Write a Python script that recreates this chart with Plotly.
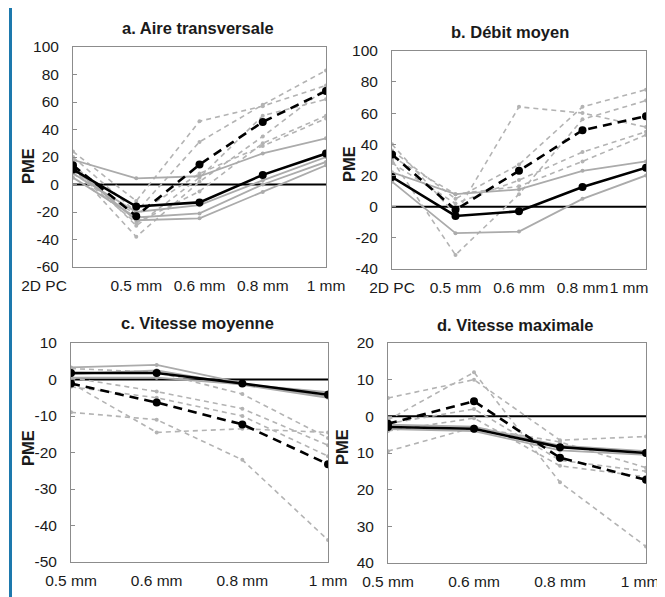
import plotly.graph_objects as go

# the page body adds an 8px offset; the figure fills the rest of the 665x597 window
OFF = 8
W, H = 665 - OFF, 597 - OFF

# ---------------- data ----------------
cats_ab = ["2D PC", "0.5 mm", "0.6 mm", "0.8 mm", "1 mm"]
cats_cd = ["0.5 mm", "0.6 mm", "0.8 mm", "1 mm"]

titles = ["a. Aire transversale", "b. Débit moyen", "c. Vitesse moyenne", "d. Vitesse maximale"]

# panel a
a_black_solid = [11, -16, -13, 7, 22.5]
a_black_dashed = [14, -23, 14.5, 45.5, 68]
a_grey_solid = [
    [18, 4.5, 6, 22.6, 33.6],
    [12, -26, -24.6, -5.5, 14],
    [5, -24, -21, 0, 16.4],
    [8, -20, -15, 3, 20],
]
a_grey_dashed = [
    [24, -12, 46, 57, 72],
    [20, -20, 31, 58, 83],
    [15, -30, 5, 50, 62],
    [12, -38, 2, 35, 70],
    [10, -28, -5, 30, 50],
    [8, -22, 8, 28, 48],
]

# panel b
b_black_solid = [19, -6, -3, 12.6, 25]
b_black_dashed = [33.5, -2, 23, 49, 58]
b_grey_solid = [
    [22, 8, 11, 23, 29],
    [16, -17, -16, 5, 20],
]
b_grey_dashed = [
    [40, -5, 64, 60, 51],
    [36, 5, 27, 64, 75],
    [30, -31, 8, 56, 68],
    [28, 2, 17, 35, 48],
    [32, 8, 13, 29, 46],
]

# panel c
c_black_solid = [1.8, 1.8, -1.1, -4.2]
c_black_dashed = [-1.1, -6.3, -12.3, -23.2]
c_grey_solid = [
    [3.3, 4, -1, -4.8],
    [1.5, 2.5, -1.5, -5],
    [0.5, 0.5, -1.3, -3.5],
]
c_grey_dashed = [
    [3, 2, -4, -16],
    [0.5, -3.3, -8, -18],
    [-1, -14.5, -13.5, -14.5],
    [-9, -11, -22, -44],
    [-2, -5, -10, -21],
]

# panel d
d_black_solid = [-2.9, -3.4, -8.4, -10]
d_black_dashed = [-2, 4.1, -11.3, -17.3]
d_grey_solid = [
    [-2.3, -2.8, -8, -9.5],
    [-3.5, -4, -9.3, -10.5],
]
d_grey_dashed = [
    [5, 10, -6.5, -5.5],
    [-1, 12, -18, -35.5],
    [-2, 2, -12, -15],
    [-4, -0.5, -13.5, -16.5],
    [-9.5, -3, -7, -14],
]

y_a_ticks = [100, 80, 60, 40, 20, 0, -20, -40, -60]
y_b_ticks = [100, 80, 60, 40, 20, 0, -20, -40]
y_c_ticks = [10, 0, -10, -20, -30, -40, -50]
y_d_ticks = [20, 10, 0, -10, -20, -30, -40]
y_d_ticktext = ["20", "10", "0", "10", "20", "30", "40"]

# ---------------- styling ----------------
FONT = "Liberation Sans, Arial, sans-serif"
GREY = "#ababab"
GREY_D = "#b3b3b3"
AXC = "#8c8c8c"
BLUE = "#1d79ad"
TXT = "#1a1a1a"
TICKFONT = dict(size=15.5, color=TXT, family=FONT)


def fx(px):
    return (px - OFF) / W


def fy(py):
    return 1 - (py - OFF) / H


# panel boxes in screen pixels (left, right, top, bottom)
boxes = [
    (73, 326, 47, 267),
    (392, 646, 50.7, 269),
    (71, 328, 343, 562),
    (388, 646, 343, 563),
]
title_pos = [(198, 28), (510, 32), (197, 323), (515, 325)]
pme_pos = [(28, 166), (349, 164), (28, 448), (342, 447)]

panels = [
    (cats_ab, a_black_solid, a_black_dashed, a_grey_solid, a_grey_dashed, [-60, 100], y_a_ticks, None),
    (cats_ab, b_black_solid, b_black_dashed, b_grey_solid, b_grey_dashed, [-40, 100], y_b_ticks, None),
    (cats_cd, c_black_solid, c_black_dashed, c_grey_solid, c_grey_dashed, [-50, 10], y_c_ticks, None),
    (cats_cd, d_black_solid, d_black_dashed, d_grey_solid, d_grey_dashed, [-40, 20], y_d_ticks, y_d_ticktext),
]

# edge category labels that the original draws shifted sideways: (panel, category index) -> px shift
label_shift = {(0, 0): -29, (1, 4): -17, (3, 3): -6}

fig = go.Figure()
layout = {}
shapes = []
annotations = []
extra_axis = 5

for i, (cats, bs, bd, gs, gd, yr, yt, ytt) in enumerate(panels):
    n = i + 1
    xa = "x" if n == 1 else f"x{n}"
    ya = "y" if n == 1 else f"y{n}"
    for s in gd:
        fig.add_trace(go.Scatter(x=cats, y=s, xaxis=xa, yaxis=ya, mode="lines+markers",
                                 line=dict(color=GREY_D, width=1.6, dash="5px,4px"),
                                 marker=dict(size=4, color=GREY_D), showlegend=False))
    for s in gs:
        fig.add_trace(go.Scatter(x=cats, y=s, xaxis=xa, yaxis=ya, mode="lines+markers",
                                 line=dict(color=GREY, width=1.8),
                                 marker=dict(size=4, color=GREY), showlegend=False))
    fig.add_trace(go.Scatter(x=cats, y=bd, xaxis=xa, yaxis=ya, mode="lines+markers",
                             line=dict(color="black", width=2.6, dash="9px,6px"),
                             marker=dict(size=8, color="black"), showlegend=False))
    fig.add_trace(go.Scatter(x=cats, y=bs, xaxis=xa, yaxis=ya, mode="lines+markers",
                             line=dict(color="black", width=2.6),
                             marker=dict(size=8, color="black"), showlegend=False))

    l, r, t, b = boxes[i]
    main_vals = [c for j, c in enumerate(cats) if (i, j) not in label_shift]
    layout["xaxis" if n == 1 else f"xaxis{n}"] = dict(
        domain=[fx(l), fx(r)], anchor=ya, type="category",
        range=[0, len(cats) - 1], tickmode="array", tickvals=main_vals, ticktext=main_vals,
        tickangle=0, automargin=False,
        showline=True, mirror=True, linecolor=AXC, linewidth=1, ticks="",
        showgrid=False, zeroline=False, ticklabelstandoff=4,
        tickfont=TICKFONT, fixedrange=True)
    layout["yaxis" if n == 1 else f"yaxis{n}"] = dict(
        domain=[fy(b), fy(t)], anchor=xa, range=yr,
        tickmode="array", tickvals=yt, ticktext=ytt if ytt else [str(v) for v in yt],
        automargin=False,
        showline=True, mirror=True, linecolor=AXC, linewidth=1,
        ticks="inside", ticklen=4, tickcolor=AXC,
        showgrid=False, zeroline=False, ticklabelstandoff=10,
        tickfont=TICKFONT, fixedrange=True)

    # overlay axes carrying the shifted edge labels
    for j, c in enumerate(cats):
        if (i, j) in label_shift:
            ox = f"x{extra_axis}"
            layout[f"xaxis{extra_axis}"] = dict(
                overlaying=xa, anchor=ya, side="bottom", type="linear",
                range=[0, len(cats) - 1], tickmode="array", tickvals=[j], ticktext=[c],
                ticklabelshift=label_shift[(i, j)], tickangle=0, automargin=False,
                showline=True, linewidth=1, linecolor="rgba(0,0,0,0)", mirror=False,
                ticks="", showgrid=False, zeroline=False,
                ticklabelstandoff=4, tickfont=TICKFONT, fixedrange=True)
            fig.add_trace(go.Scatter(x=[], y=[], xaxis=ox, yaxis=ya, mode="markers",
                                     showlegend=False, hoverinfo="skip"))
            extra_axis += 1

    # zero reference line
    shapes.append(dict(type="line", xref=f"{xa} domain", yref=ya, x0=0, x1=1, y0=0, y1=0,
                       line=dict(color="black", width=2), layer="below"))

    tx, ty = title_pos[i]
    annotations.append(dict(text=f"<b>{titles[i]}</b>", x=fx(tx), y=fy(ty), xref="paper", yref="paper",
                            showarrow=False, xanchor="center", yanchor="middle",
                            font=dict(size=16.5, color=TXT, family=FONT)))
    px, py = pme_pos[i]
    annotations.append(dict(text="<b>PME</b>", x=fx(px), y=fy(py), xref="paper", yref="paper",
                            showarrow=False, xanchor="center", yanchor="middle", textangle=-90,
                            font=dict(size=16.5, color=TXT, family=FONT)))

# blue frame (top and left edges)
shapes.append(dict(type="line", xref="paper", yref="paper", x0=fx(9), x1=1, y0=fy(6.5), y1=fy(6.5),
                   line=dict(color=BLUE, width=3)))
shapes.append(dict(type="line", xref="paper", yref="paper", x0=fx(10.5), x1=fx(10.5), y0=0, y1=fy(5),
                   line=dict(color=BLUE, width=3)))

fig.update_layout(
    width=W, height=H, autosize=False,
    margin=dict(l=0, r=0, t=0, b=0, pad=0, autoexpand=False),
    paper_bgcolor="white", plot_bgcolor="white",
    font=dict(family=FONT, color=TXT),
    shapes=shapes, annotations=annotations,
    **layout,
)

fig.write_html("out.html")
